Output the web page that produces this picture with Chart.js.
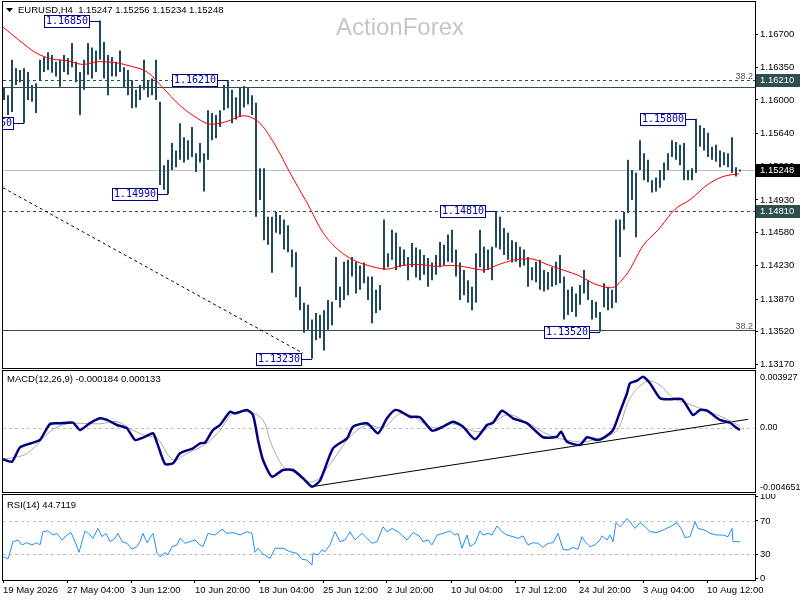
<!DOCTYPE html>
<html>
<head>
<meta charset="utf-8">
<title>EURUSD H4</title>
<script src="https://cdn.jsdelivr.net/npm/chart.js@4.4.1/dist/chart.umd.min.js"></script>
<style>
  html, body { margin: 0; padding: 0; background: #fff; }
  #wrap { position: relative; width: 800px; height: 600px; overflow: hidden; }
  canvas { position: absolute; left: 0; }
</style>
</head>
<body>
<div id="wrap">
  <canvas id="priceChart" width="800" height="370" style="top:0"></canvas>
  <canvas id="macdChart" width="800" height="125" style="top:369px"></canvas>
  <canvas id="rsiChart" width="800" height="106" style="top:494px"></canvas>
</div>
<script>
const FONT = '"Liberation Sans", Arial, sans-serif';
Chart.defaults.font.family = FONT;
Chart.defaults.font.size = 9.5;
Chart.defaults.color = "#000";

// time axis: x is the H4 bar number, labels every 32 bars
const dateLabels = ["19 May 2026", "27 May 04:00", "3 Jun 12:00", "10 Jun 20:00", "18 Jun 04:00", "25 Jun 12:00",
  "2 Jul 20:00", "10 Jul 04:00", "17 Jul 12:00", "24 Jul 20:00", "3 Aug 04:00", "10 Aug 12:00"];
const dateTicks = [0, 32, 64, 96, 128, 160, 192, 224, 256, 288, 320, 352];

// price bars (each drawn bar spans two H4 periods)
const barHigh = [
  1.1613, 1.1605, 1.1643, 1.1634, 1.1632, 1.1634, 1.1630, 1.1616, 1.1618, 1.1643,
  1.1646, 1.1651, 1.1648, 1.1641, 1.1643, 1.1648, 1.1645, 1.1661, 1.1641, 1.1630,
  1.1643, 1.1661, 1.1656, 1.1653, 1.1685, 1.1662, 1.1648, 1.1646, 1.1641, 1.1653,
  1.1635, 1.1632, 1.1621, 1.1611, 1.1616, 1.1643, 1.1621, 1.1623, 1.1643, 1.1598,
  1.1530, 1.1536, 1.1554, 1.1546, 1.1575, 1.1560, 1.1557, 1.1571, 1.1543, 1.1554,
  1.1543, 1.1589, 1.1586, 1.1584, 1.1589, 1.1616, 1.1621, 1.1611, 1.1603, 1.1613,
  1.1615, 1.1613, 1.1605, 1.1597, 1.1527, 1.1527, 1.1475, 1.1475, 1.1480, 1.1477,
  1.1472, 1.1466, 1.1440, 1.1437, 1.1400, 1.1383, 1.1381, 1.1365, 1.1372, 1.1370,
  1.1375, 1.1386, 1.1384, 1.1432, 1.1400, 1.1427, 1.1429, 1.1432, 1.1427, 1.1423,
  1.1426, 1.1411, 1.1411, 1.1397, 1.1402, 1.1472, 1.1436, 1.1461, 1.1458, 1.1443,
  1.1440, 1.1432, 1.1447, 1.1442, 1.1440, 1.1434, 1.1431, 1.1426, 1.1434, 1.1448,
  1.1445, 1.1456, 1.1461, 1.1440, 1.1426, 1.1418, 1.1407, 1.1400, 1.1436, 1.1461,
  1.1443, 1.1440, 1.1443, 1.1481, 1.1475, 1.1463, 1.1458, 1.1450, 1.1448, 1.1443,
  1.1440, 1.1432, 1.1421, 1.1427, 1.1429, 1.1418, 1.1416, 1.1421, 1.1427, 1.1434,
  1.1411, 1.1397, 1.1400, 1.1393, 1.1402, 1.1418, 1.1407, 1.1386, 1.1384, 1.1373,
  1.1404, 1.1400, 1.1397, 1.1472, 1.1472, 1.1480, 1.1536, 1.1525, 1.1522, 1.1557,
  1.1543, 1.1536, 1.1514, 1.1517, 1.1525, 1.1533, 1.1543, 1.1557, 1.1555, 1.1552,
  1.1554, 1.1525, 1.1527, 1.1580, 1.1573, 1.1570, 1.1565, 1.1550, 1.1552, 1.1546,
  1.1544, 1.1543, 1.1560, 1.1528, 1.15256
];
const barLow = [
  1.1600, 1.1584, 1.1587, 1.1616, 1.1619, 1.1575, 1.1600, 1.1598, 1.1586, 1.1621,
  1.1630, 1.1632, 1.1629, 1.1625, 1.1614, 1.1630, 1.1627, 1.1635, 1.1619, 1.1584,
  1.1611, 1.1627, 1.1623, 1.1630, 1.1643, 1.1623, 1.1605, 1.1625, 1.1625, 1.1630,
  1.1613, 1.1605, 1.1591, 1.1592, 1.1600, 1.1611, 1.1603, 1.1605, 1.1600, 1.1509,
  1.1504, 1.1499, 1.1525, 1.1528, 1.1536, 1.1533, 1.1536, 1.1539, 1.1523, 1.1533,
  1.1502, 1.1536, 1.1557, 1.1559, 1.1571, 1.1589, 1.1591, 1.1575, 1.1579, 1.1582,
  1.1592, 1.1595, 1.1584, 1.1475, 1.1493, 1.1450, 1.1445, 1.1415, 1.1458, 1.1456,
  1.1440, 1.1437, 1.1421, 1.1389, 1.1375, 1.1351, 1.1354, 1.1323, 1.1343, 1.1345,
  1.1332, 1.1354, 1.1359, 1.1386, 1.1378, 1.1386, 1.1391, 1.1411, 1.1393, 1.1397,
  1.1404, 1.1386, 1.1361, 1.1372, 1.1375, 1.1418, 1.1421, 1.1429, 1.1418, 1.1421,
  1.1423, 1.1407, 1.1421, 1.1410, 1.1407, 1.1413, 1.1400, 1.1407, 1.1413, 1.1421,
  1.1423, 1.1427, 1.1426, 1.1411, 1.1386, 1.1391, 1.1383, 1.1375, 1.1383, 1.1421,
  1.1415, 1.1418, 1.1407, 1.1442, 1.1440, 1.1434, 1.1429, 1.1426, 1.1427, 1.1421,
  1.1423, 1.1400, 1.1407, 1.1405, 1.1397, 1.1395, 1.1397, 1.1400, 1.1402, 1.1404,
  1.1365, 1.1370, 1.1373, 1.1368, 1.1381, 1.1393, 1.1386, 1.1365, 1.1367, 1.1352,
  1.1378, 1.1375, 1.1377, 1.1383, 1.1432, 1.1461, 1.1479, 1.1493, 1.1453, 1.1525,
  1.1514, 1.1512, 1.1501, 1.1502, 1.1506, 1.1514, 1.1525, 1.1539, 1.1536, 1.1530,
  1.1514, 1.1514, 1.1514, 1.1522, 1.1550, 1.1546, 1.1539, 1.1536, 1.1534, 1.1528,
  1.1530, 1.1528, 1.1522, 1.1518, 1.15234
];
const lastOHLC = ["1.15247", "1.15256", "1.15234", "1.15248"];

// 55 EMA, [bar, price]
const emaLine = [[0, 1.1678], [8, 1.1664], [16, 1.1651], [24, 1.1644], [32, 1.1642], [40, 1.1638], [48, 1.1641],
  [56, 1.1640], [64, 1.1636], [72, 1.1630], [80, 1.1613], [88, 1.1595], [96, 1.1582], [104, 1.1574], [112, 1.1577],
  [120, 1.1583], [128, 1.1576], [136, 1.1552], [144, 1.1520], [152, 1.1490], [160, 1.1458], [168, 1.1439],
  [176, 1.1428], [184, 1.1422], [192, 1.1419], [200, 1.1423], [208, 1.1424], [216, 1.1422], [224, 1.1423],
  [232, 1.1421], [240, 1.1418], [248, 1.1424], [256, 1.1429], [264, 1.1430], [272, 1.1424], [280, 1.1418],
  [288, 1.1412], [296, 1.1403], [304, 1.1399], [312, 1.1414], [320, 1.1444], [328, 1.1462], [336, 1.1483],
  [344, 1.1494], [352, 1.1509], [360, 1.1518], [368, 1.1521]];

// swing high/low tags, [bar column, price]
const swingLabels = [[24, 1.1685], [5, 1.1575], [41, 1.1499], [56, 1.1621], [77, 1.1323], [123, 1.1481], [149, 1.1352], [173, 1.1580]];
const priceTicks = [1.16700, 1.16350, 1.16000, 1.15640, 1.15290, 1.14930, 1.14580, 1.14230, 1.13870, 1.13520, 1.13170];
const lastPrice = 1.15248;
const dashedLevels = [1.1621, 1.1481];
const solidLevels = [1.1614, 1.1354];
const fibLevels = [1.1621, 1.1354];
const axisMarks = [1.1621, 1.1481];
const priceTrend = [[0, 1.1506], [150, 1.1329]];

// MACD(12,26,9), [bar, value]
const macdLine = [[0, -0.00245], [4.5, -0.00263], [8.5, -0.00152], [15, -0.00116], [18.5, -0.00095], [23.5, 0.00029],
  [28.5, 0.00034], [35, 0.00039], [38.5, -0.00018], [43.5, 0.00036], [48.5, 0.00073], [52, 0.0006], [57, 0.00021],
  [62, -0.00005], [66, -0.00095], [70, -0.00077], [75, -0.00043], [77, -0.00116], [81, -0.00281], [85, -0.00276],
  [88.5, -0.00198], [95, -0.0016], [98.5, -0.00121], [101, -0.00116], [105, -0.00018], [108.5, 0.00021],
  [113.5, 0.00124], [116, 0.00111], [122, 0.00137], [125, 0.00098], [127.5, -0.00095], [130, -0.0025],
  [134.5, -0.0038], [140, -0.00328], [145, -0.00328], [150, -0.00392], [154.5, -0.00457], [158.5, -0.0041],
  [165, -0.0016], [172, -0.00082], [175, 0.00008], [182, 0.00034], [187.5, -0.00043], [192, 0.00073], [196, 0.00137],
  [198.5, 0.00128], [203.5, 0.00085], [208.5, 0.00081], [214.5, -0.00023], [220, 0.00008], [225, 0.00047],
  [230, 0.00008], [236, -0.0009], [242, 0.00021], [245, 0.00039], [249.5, 0.00132], [255, 0.00073], [262, 0.00034],
  [270, -0.00074], [277, -0.0007], [279, -0.00031], [282, -0.00109], [288.5, -0.00134], [292, -0.00074],
  [297, -0.00095], [300, -0.00082], [305, -0.00018], [308.5, 0.00124], [312, 0.00267], [313.5, 0.00344],
  [317, 0.00364], [320, 0.00395], [323.5, 0.00344], [328.5, 0.00228], [333.5, 0.0022], [339.5, 0.0022],
  [345, 0.00098], [348.5, 0.00137], [352, 0.00132], [358.5, 0.0006], [363.5, 0.00039], [366, 0.00008], [368.5, -0.00018]];
const signalLine = [[0, -0.00245], [12, -0.002], [23.5, -0.0003], [32, 0.0003], [48.5, 0.0003], [57, 0.00047],
  [65, -0.0002], [72, -0.00064], [77, -0.0008], [85, -0.0025], [92, -0.002], [102, -0.0012], [108.5, -0.0002],
  [115, 0.0011], [123.5, 0.0012], [130, 0.0006], [134, -0.0012], [140, -0.003], [145, -0.0034], [155, -0.0042],
  [165, -0.0025], [173.5, -0.0007], [182, 0.0002], [190, 0.0], [198.5, 0.0011], [203.5, 0.001], [215, 0.0],
  [225, 0.0003], [238.5, -0.0003], [252, 0.001], [262, 0.0004], [273.5, -0.0006], [288.5, -0.0011], [298.5, -0.0008],
  [307, -0.0002], [313.5, 0.0023], [322, 0.0036], [328.5, 0.0033], [335, 0.0023], [343.5, 0.0018], [352, 0.0013],
  [360, 0.0008], [368.5, 0.00013]];
const macdTrend = [[154.5, -0.00457], [372.5, 0.00065]];
const macdTicks = [0.003927, 0, -0.004651];
const macdReadout = ["-0.000184", "0.000133"];

// RSI(14), [bar, value]
const rsiLine = [[0, 26.8], [2.5, 24], [5, 45], [7.5, 47], [9.5, 41], [12, 43.7], [14.5, 41], [17, 43.7], [18.5, 41],
  [20, 57], [22.5, 58], [25, 53], [27, 55], [29.5, 47], [32, 53], [34, 56], [36, 45], [38, 32], [41, 58], [43.5, 53],
  [45, 49], [47.5, 61], [49.5, 51], [51.5, 55], [53.5, 45], [56, 49], [57.5, 55], [59.5, 45], [62, 43], [64.5, 35.7],
  [67, 39], [68.5, 45], [70, 55], [72, 43.7], [75, 55], [77, 31], [78.5, 26.7], [81, 31.6], [82.5, 28.8], [84.5, 39],
  [87, 41], [88.5, 49], [91, 43], [93.5, 45], [96, 47], [98.5, 41], [100, 39], [102.5, 55], [106, 53], [109.5, 60],
  [112, 55], [115, 56], [118.5, 53], [122, 57], [124.5, 55], [126, 32], [127.5, 37], [130, 30], [133.5, 24.7],
  [136, 37], [140, 37], [143.5, 32.8], [147, 30.8], [149.5, 23.6], [152, 22.7], [154.5, 16.7], [155, 30.8],
  [157.5, 28.8], [159.5, 34.8], [161, 32.8], [163.5, 41], [166, 57], [168.5, 45], [171, 47], [173.5, 57], [176, 47],
  [179.5, 55], [182, 49], [184.5, 43], [187, 45], [190, 63], [192, 57], [194.5, 61], [197.5, 57], [198.5, 55],
  [202, 47], [205, 56], [208.5, 51], [210, 45], [212.5, 47], [214.5, 41], [217, 53], [220, 55], [223.5, 58],
  [226, 53], [227.5, 55], [229.5, 37], [232, 53], [233.5, 39], [236, 43], [238.5, 58], [240, 53], [242.5, 55],
  [244.5, 53], [247, 64], [249.5, 57], [252, 53], [255, 51], [257.5, 49], [260, 52], [262.5, 41], [265, 43.7],
  [267.5, 43], [270, 38], [272.5, 43], [275, 43.7], [277.5, 55], [280, 35.7], [282.5, 34.8], [285, 38], [287.5, 35.7],
  [289.5, 51], [291, 45], [293.5, 39], [296, 41], [298.5, 47], [299.5, 52], [302, 47], [303.5, 53], [305, 45],
  [306.5, 68], [308.5, 63], [310, 67], [312, 73], [313.5, 69], [316, 61], [318.5, 68], [321, 63], [323.5, 57],
  [327, 56], [330, 59], [333.5, 63], [337, 68], [339.5, 59], [341, 50], [343.5, 51], [346, 69], [347.5, 61], [351, 59],
  [353.5, 55], [357, 53], [360, 53], [362.5, 51], [364.5, 61], [365, 45], [367, 45], [368.5, 44.7]];
const rsiTicks = [100, 70, 30, 0];
const rsiLevels = [70, 30];
const rsiReadout = "44.7119";

const BAR_SPAN = 2;
const toXY = arr => arr.map(([x, y]) => ({ x, y }));
const ohlcBars = barHigh.map((h, i) => ({ x: i * BAR_SPAN + 0.5, y: [barLow[i], h] }));

function xScale(show) {
  return {
    type: "linear", min: 0, max: 376, display: show, offset: false,
    afterBuildTicks: s => { s.ticks = dateTicks.map(v => ({ value: v })); },
    afterFit: s => { s.paddingLeft = 0; s.paddingRight = 0; if (show) s.height = 20; },
    grid: { drawOnChartArea: false, offset: false, tickLength: 3, color: "#000" },
    border: { display: false },
    ticks: { autoSkip: false, maxRotation: 0, align: "start", padding: 2, callback: v => dateLabels[dateTicks.indexOf(v)] }
  };
}

function yScale(min, max, ticks, fmt, opts) {
  return {
    position: "right", min, max,
    afterBuildTicks: s => { s.ticks = ticks.map(v => ({ value: v })); },
    afterFit: s => { s.width = 45; s.paddingTop = 0; s.paddingBottom = 0; },
    grid: { display: opts.marks, drawOnChartArea: false, tickLength: 3, color: "#000" },
    border: { display: false },
    ticks: { autoSkip: false, padding: opts.pad, font: { size: opts.size }, callback: fmt }
  };
}

function hline(chart, value, color, dash) {
  const { ctx, chartArea: a, scales: { y } } = chart;
  const py = Math.round(y.getPixelForValue(value)) + 0.5;
  ctx.save();
  ctx.strokeStyle = color;
  ctx.lineWidth = 1;
  ctx.setLineDash(dash);
  ctx.beginPath();
  ctx.moveTo(a.left, py);
  ctx.lineTo(a.right, py);
  ctx.stroke();
  ctx.restore();
}

function frame(chart) {
  const { ctx, chartArea: a } = chart;
  ctx.save();
  ctx.strokeStyle = "#000";
  ctx.lineWidth = 1;
  ctx.strokeRect(Math.round(a.left) - 0.5, Math.round(a.top) - 0.5, Math.round(a.right - a.left) + 1, Math.round(a.bottom - a.top) + 1);
  ctx.restore();
}

function title(chart, text, x, y) {
  const ctx = chart.ctx;
  ctx.save();
  ctx.fillStyle = "#000";
  ctx.font = "9.5px " + FONT;
  ctx.textBaseline = "middle";
  ctx.fillText(text, x, y);
  ctx.restore();
}

function axisTag(chart, value, bg) {
  const { ctx, chartArea: a, scales: { y } } = chart;
  const cy = Math.round(y.getPixelForValue(value));
  ctx.save();
  ctx.fillStyle = bg;
  ctx.fillRect(a.right + 1, cy - 6, 800 - a.right - 1, 13);
  ctx.fillStyle = "#fff";
  ctx.font = "9.5px " + FONT;
  ctx.textBaseline = "middle";
  ctx.fillText(value.toFixed(5), 760, cy + 0.5);
  ctx.restore();
}

const priceDecor = {
  id: "priceDecor",
  beforeDatasetsDraw(chart) {
    const { ctx, chartArea: a, scales: { y } } = chart;
    ctx.save();
    ctx.fillStyle = "#c6c6c6";
    ctx.font = "24px " + FONT;
    ctx.textAlign = "center";
    ctx.textBaseline = "middle";
    ctx.fillText("ActionForex", 400, 28);
    ctx.restore();
    hline(chart, lastPrice, "#c0c0c0", []);
    dashedLevels.forEach(p => hline(chart, p, "#2f4f4f", [3, 3]));
    solidLevels.forEach(p => hline(chart, p, "#2f4f4f", []));
    ctx.save();
    ctx.fillStyle = "#555";
    ctx.font = "9px " + FONT;
    ctx.textAlign = "right";
    ctx.textBaseline = "bottom";
    fibLevels.forEach(p => ctx.fillText("38.2", a.right - 2, Math.round(y.getPixelForValue(p)) + 1));
    ctx.restore();
  },
  afterDatasetsDraw(chart) {
    const { ctx, chartArea: a, scales: { x, y } } = chart;
    ctx.save();
    ctx.beginPath();
    ctx.rect(a.left, a.top, a.right - a.left, a.bottom - a.top);
    ctx.clip();
    ctx.font = '10px "DejaVu Sans Mono", monospace';
    ctx.lineWidth = 1;
    swingLabels.forEach(([col, price]) => {
      const bx = Math.round(x.getPixelForValue(col * BAR_SPAN + 0.5));
      const cy = Math.round(y.getPixelForValue(price));
      const text = price.toFixed(5);
      const w = Math.round(ctx.measureText(text).width) + 4;
      const right = bx - 10;
      ctx.strokeStyle = "#000080";
      ctx.beginPath();
      ctx.moveTo(right, cy + 0.5);
      ctx.lineTo(bx, cy + 0.5);
      ctx.stroke();
      ctx.fillStyle = "#fff";
      ctx.fillRect(right - w, cy - 6, w, 12);
      ctx.strokeRect(right - w + 0.5, cy - 5.5, w - 1, 12);
      ctx.fillStyle = "#0000a0";
      ctx.textAlign = "center";
      ctx.textBaseline = "middle";
      ctx.fillText(text, right - w / 2, cy + 0.5);
    });
    ctx.restore();
  },
  afterDraw(chart) {
    frame(chart);
    axisMarks.forEach(p => axisTag(chart, p, "#2f4f4f"));
    axisTag(chart, lastPrice, "#000");
    const ctx = chart.ctx;
    ctx.save();
    ctx.fillStyle = "#000";
    ctx.beginPath();
    ctx.moveTo(6, 8);
    ctx.lineTo(13, 8);
    ctx.lineTo(9.5, 12);
    ctx.closePath();
    ctx.fill();
    ctx.restore();
    title(chart, "EURUSD,H4  " + lastOHLC.join(" "), 18, 10);
  }
};

const macdDecor = {
  id: "macdDecor",
  beforeDatasetsDraw(chart) { hline(chart, 0, "#bdbdbd", [3, 3]); },
  afterDraw(chart) {
    frame(chart);
    title(chart, "MACD(12,26,9) " + macdReadout.join(" "), 7, 10);
  }
};

const rsiDecor = {
  id: "rsiDecor",
  beforeDatasetsDraw(chart) { rsiLevels.forEach(v => hline(chart, v, "#bdbdbd", [3, 3])); },
  afterDraw(chart) {
    frame(chart);
    title(chart, "RSI(14) " + rsiReadout, 7, 11);
  }
};

const baseOptions = {
  responsive: false, animation: false, events: [],
  plugins: { legend: { display: false }, tooltip: { enabled: false } }
};

new Chart(document.getElementById("priceChart"), {
  type: "bar",
  data: {
    datasets: [
      { type: "line", data: toXY(emaLine), borderColor: "#ff0000", borderWidth: 1, pointRadius: 0, cubicInterpolationMode: "monotone", order: 0 },
      { type: "line", data: toXY(priceTrend), borderColor: "#000", borderWidth: 1, borderDash: [3, 3], pointRadius: 0, order: 1 },
      { type: "bar", data: ohlcBars, backgroundColor: "#1f4a5e", barThickness: 2, inflateAmount: 0, borderWidth: 0, grouped: false, order: 2 }
    ]
  },
  options: {
    ...baseOptions,
    layout: { padding: { left: 3, top: 2, right: 0, bottom: 2 } },
    scales: {
      x: xScale(false),
      y: yScale(1.13132, 1.17048, priceTicks, v => v.toFixed(5), { marks: true, pad: 2, size: 9.5 })
    }
  },
  plugins: [priceDecor]
});

new Chart(document.getElementById("macdChart"), {
  type: "line",
  data: {
    datasets: [
      { data: toXY(macdLine), borderColor: "#000080", borderWidth: 2.5, pointRadius: 0, tension: 0.2, order: 0 },
      { data: toXY(signalLine), borderColor: "#a9a9a9", borderWidth: 1, pointRadius: 0, tension: 0.35, order: 1 },
      { data: toXY(macdTrend), borderColor: "#000", borderWidth: 1, pointRadius: 0, order: 2 }
    ]
  },
  options: {
    ...baseOptions,
    layout: { padding: { left: 3, top: 2, right: 0, bottom: 2 } },
    scales: {
      x: xScale(false),
      y: yScale(-0.004983, 0.004394, macdTicks, v => (v === 0 ? "0.00" : v.toFixed(6)), { marks: false, pad: 2, size: 9 })
    }
  },
  plugins: [macdDecor]
});

new Chart(document.getElementById("rsiChart"), {
  type: "line",
  data: {
    datasets: [
      { data: toXY(rsiLine), borderColor: "#1e90ff", borderWidth: 1, pointRadius: 0, tension: 0 }
    ]
  },
  options: {
    ...baseOptions,
    layout: { padding: { left: 3, top: 1, right: 0, bottom: 0 } },
    scales: {
      x: xScale(true),
      y: yScale(-1.5, 101.5, rsiTicks, v => String(v), { marks: true, pad: 2, size: 9.5 })
    }
  },
  plugins: [rsiDecor]
});
</script>
</body>
</html>
